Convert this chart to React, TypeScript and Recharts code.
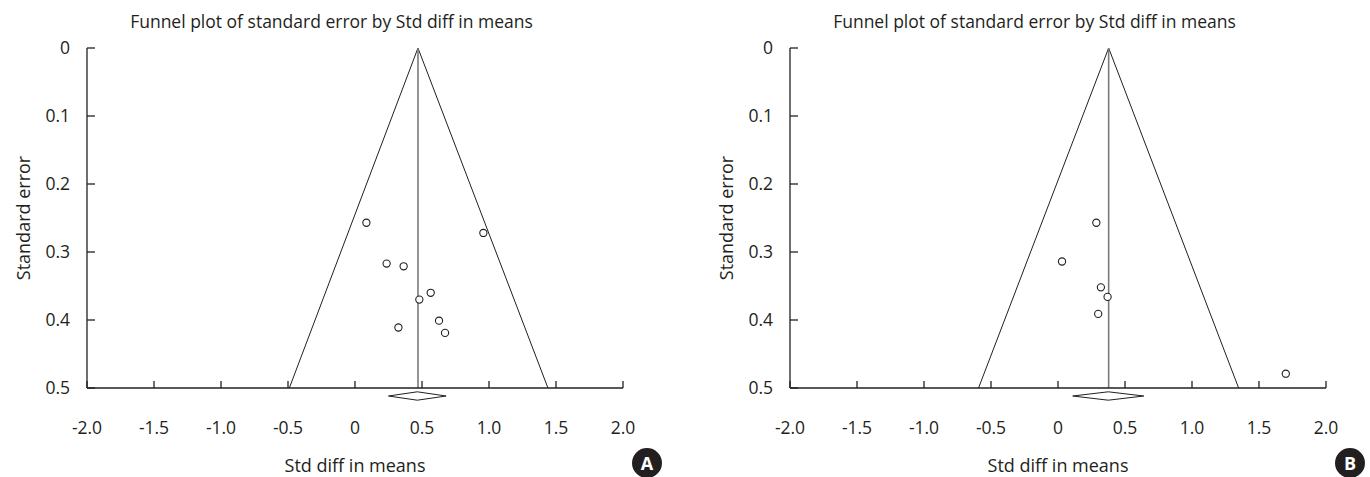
import { ScatterChart, Scatter, XAxis, YAxis, ReferenceLine } from "recharts";

// axis ticks shared by both panels
const xTicks = [-2, -1.5, -1, -0.5, 0, 0.5, 1, 1.5, 2];
const yTicks = [0, 0.1, 0.2, 0.3, 0.4, 0.5];

// panel A: study effects (std diff in means) and their standard errors
const effectA = [0.085, 0.958, 0.236, 0.363, 0.565, 0.48, 0.627, 0.324, 0.672];
const seA = [0.257, 0.272, 0.317, 0.321, 0.36, 0.37, 0.401, 0.411, 0.419];
const meanA = 0.47;
const ciA = [0.25, 0.68];
const funnelA = [-0.49, 1.44];

// panel B
const effectB = [0.286, 0.03, 0.32, 0.37, 0.3, 1.7];
const seB = [0.257, 0.314, 0.352, 0.366, 0.391, 0.479];
const meanB = 0.378;
const ciB = [0.11, 0.64];
const funnelB = [-0.593, 1.348];

const TITLE = "Funnel plot of standard error by Std diff in means";
const INK = "#231f20";
const FONT = "'Open Sans', 'Noto Sans', sans-serif";

const CHART_W = 685;
const CHART_H = 477;
const PLOT_W = 536;
const YAXIS_W = 60;

const Dot = (props: any) => {
  const { cx, cy } = props;
  if (cx == null || cy == null) return null;
  return <circle cx={cx} cy={cy} r={3.6} fill="#fff" stroke={INK} strokeWidth={1.1} />;
};

// summary diamond drawn just below the x axis, spanning the CI
const Diamond = (props: any) => {
  const { x1, x2, y1 } = props;
  if ([x1, x2, y1].some((v) => v == null || isNaN(v))) return null;
  const mid = (x1 + x2) / 2;
  const pts = `${x1},${y1 + 8} ${mid},${y1 + 3.8} ${x2},${y1 + 8} ${mid},${y1 + 12.2}`;
  return <polygon points={pts} fill="#fff" stroke={INK} strokeWidth={1} />;
};

const YTitle = (props: any) => {
  const vb = props.viewBox;
  if (!vb) return null;
  const x = vb.x + vb.width - 64;
  const y = vb.y + vb.height / 2;
  return (
    <text
      x={x}
      y={y}
      transform={`rotate(-90, ${x}, ${y})`}
      textAnchor="middle"
      dominantBaseline="central"
      fill={INK}
      fontSize={18}
      fontFamily={FONT}
    >
      Standard error
    </text>
  );
};

const XTitle = (props: any) => {
  const vb = props.viewBox;
  if (!vb) return null;
  return (
    <text
      x={vb.x + vb.width / 2}
      y={vb.y + 84}
      textAnchor="middle"
      fill={INK}
      fontSize={18}
      fontFamily={FONT}
    >
      Std diff in means
    </text>
  );
};

const fmtX = (v: number) => (v === 0 ? "0" : v.toFixed(1));
const fmtY = (v: number) => (v === 0 ? "0" : v.toFixed(1));

function FunnelPanel({
  effects,
  ses,
  mean,
  ci,
  funnel,
  left,
  badge,
}: {
  effects: number[];
  ses: number[];
  mean: number;
  ci: number[];
  funnel: number[];
  left: number;
  badge: string;
}) {
  const data = effects.map((d, i) => ({ x: d, y: ses[i] }));
  const marginRight = CHART_W - left - YAXIS_W - PLOT_W;
  const plotCenter = left + YAXIS_W + PLOT_W / 2;

  return (
    <div style={{ position: "relative", width: CHART_W, height: CHART_H }}>
      <ScatterChart
        width={CHART_W}
        height={CHART_H}
        margin={{ top: 48, right: marginRight, bottom: 0, left: left }}
      >
        <XAxis
          type="number"
          dataKey="x"
          domain={[-2, 2]}
          ticks={xTicks}
          interval={0}
          tickFormatter={fmtX}
          height={89}
          tickSize={-7}
          tickMargin={41}
          stroke={INK}
          strokeWidth={1.3}
          tick={{ fill: INK, fontSize: 17.5, fontFamily: FONT }}
          label={<XTitle />}
        />
        <YAxis
          type="number"
          dataKey="y"
          domain={[0, 0.5]}
          reversed
          ticks={yTicks}
          interval={0}
          tickFormatter={fmtY}
          width={YAXIS_W}
          tickSize={-8}
          tickMargin={25}
          stroke={INK}
          strokeWidth={1.3}
          tick={{ fill: INK, fontSize: 17.5, fontFamily: FONT }}
          label={<YTitle />}
        />
        <ReferenceLine
          segment={[
            { x: funnel[0], y: 0.5 },
            { x: mean, y: 0 },
          ]}
          stroke={INK}
          strokeWidth={1}
          ifOverflow="visible"
        />
        <ReferenceLine
          segment={[
            { x: mean, y: 0 },
            { x: funnel[1], y: 0.5 },
          ]}
          stroke={INK}
          strokeWidth={1}
          ifOverflow="visible"
        />
        <ReferenceLine
          segment={[
            { x: mean, y: 0 },
            { x: mean, y: 0.5 },
          ]}
          stroke="#7a7a7a"
          strokeWidth={1.6}
          ifOverflow="visible"
        />
        <ReferenceLine
          segment={[
            { x: ci[0], y: 0.5 },
            { x: ci[1], y: 0.5 },
          ]}
          shape={<Diamond />}
          ifOverflow="visible"
        />
        <Scatter data={data} shape={<Dot />} isAnimationActive={false} />
      </ScatterChart>
      <svg
        width={CHART_W}
        height={CHART_H}
        style={{ position: "absolute", left: 0, top: 0, pointerEvents: "none" }}
      >
        <text
          x={plotCenter - 23.5}
          y={28}
          textAnchor="middle"
          fill={INK}
          fontSize={17.5}
          fontFamily={FONT}
        >
          {TITLE}
        </text>
        <circle cx={plotCenter + 292} cy={463} r={15} fill={INK} />
        <text
          x={plotCenter + 292}
          y={463}
          textAnchor="middle"
          dominantBaseline="central"
          fill="#fff"
          fontSize={18}
          fontWeight={700}
          fontFamily={FONT}
        >
          {badge}
        </text>
      </svg>
    </div>
  );
}

export default function App() {
  return (
    <div
      style={{
        position: "absolute",
        left: 0,
        top: 0,
        width: 1370,
        height: 477,
        display: "flex",
        background: "#fff",
        overflow: "hidden",
      }}
    >
      <FunnelPanel
        effects={effectA}
        ses={seA}
        mean={meanA}
        ci={ciA}
        funnel={funnelA}
        left={27}
        badge="A"
      />
      <FunnelPanel
        effects={effectB}
        ses={seB}
        mean={meanB}
        ci={ciB}
        funnel={funnelB}
        left={45}
        badge="B"
      />
    </div>
  );
}
